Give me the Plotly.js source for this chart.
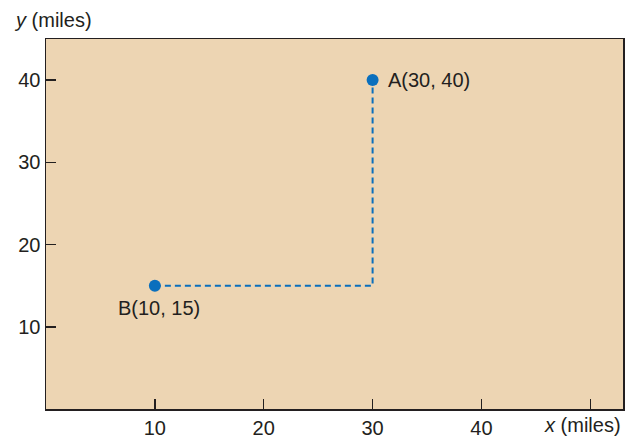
<!DOCTYPE html>
<html>
<head>
<meta charset="utf-8">
<script src="https://cdn.plot.ly/plotly-3.0.1.min.js"></script>
<style>html,body{margin:0;padding:0;background:#fff;}</style>
</head>
<body>
<div id="chart" style="width:626px;height:437px;"></div>
<script>
// Data
const pointX = [30, 10];
const pointY = [40, 15];
const pointLabels = ['A(30, 40)', 'B(10, 15)'];
const pathX = [10, 30, 30];
const pathY = [15, 15, 40];
const xTickVals = [10, 20, 30, 40, 50];
const xTickText = ['10', '20', '30', '40', ''];
const yTickVals = [10, 20, 30, 40];
const yTickText = ['10', '20', '30', '40'];

const blue = '#0a6fbd';
const font = {family: 'Liberation Sans, Arial, sans-serif', size: 20, color: '#231f20'};

const traces = [
  {x: pathX, y: pathY, mode: 'lines', line: {color: blue, width: 2, dash: '6px,4px'}, hoverinfo: 'skip'},
  {x: pointX, y: pointY, mode: 'markers', marker: {color: blue, size: 12}}
];

const W = 626, H = 437, ML = 46, MR = 3, MT = 39, MB = 28;
const PW = W - ML - MR, PH = H - MT - MB;

const layout = {
  width: W, height: H,
  margin: {l: ML, r: MR, t: MT, b: MB},
  paper_bgcolor: '#ffffff',
  plot_bgcolor: '#edd5b3',
  showlegend: false,
  font: font,
  xaxis: {
    range: [0, 53], tickvals: xTickVals, ticktext: xTickText,
    ticks: 'inside', ticklen: 10, tickwidth: 1.5, tickcolor: '#231f20',
    showgrid: false, zeroline: false, showline: true, linecolor: '#231f20', linewidth: 1.5, mirror: true,
    tickfont: font, fixedrange: true
  },
  yaxis: {
    range: [0, 45], tickvals: yTickVals, ticktext: yTickText,
    ticks: 'inside', ticklen: 10, tickwidth: 1.5, tickcolor: '#231f20',
    showgrid: false, zeroline: false, showline: true, linecolor: '#231f20', linewidth: 1.5, mirror: true,
    tickfont: font, fixedrange: true
  },
  annotations: [
    {x: pointX[0], y: pointY[0], xref: 'x', yref: 'y', text: pointLabels[0], showarrow: false,
     xanchor: 'left', yanchor: 'middle', xshift: 13, font: font},
    {x: pointX[1], y: pointY[1], xref: 'x', yref: 'y', text: pointLabels[1], showarrow: false,
     xanchor: 'center', yanchor: 'top', xshift: 4, yshift: -9, font: font},
    {x: 1, y: -(425 - (H - MB)) / PH, xref: 'paper', yref: 'paper', text: '<i>x</i> (miles)', showarrow: false,
     xanchor: 'right', yanchor: 'middle', font: font},
    {x: (12 - ML) / PW, y: 1 + (MT - 20) / PH, xref: 'paper', yref: 'paper', text: '<i>y</i> (miles)', showarrow: false,
     xanchor: 'left', yanchor: 'middle', font: font}
  ]
};

Plotly.newPlot('chart', traces, layout, {displayModeBar: false, staticPlot: true});
</script>
</body>
</html>
